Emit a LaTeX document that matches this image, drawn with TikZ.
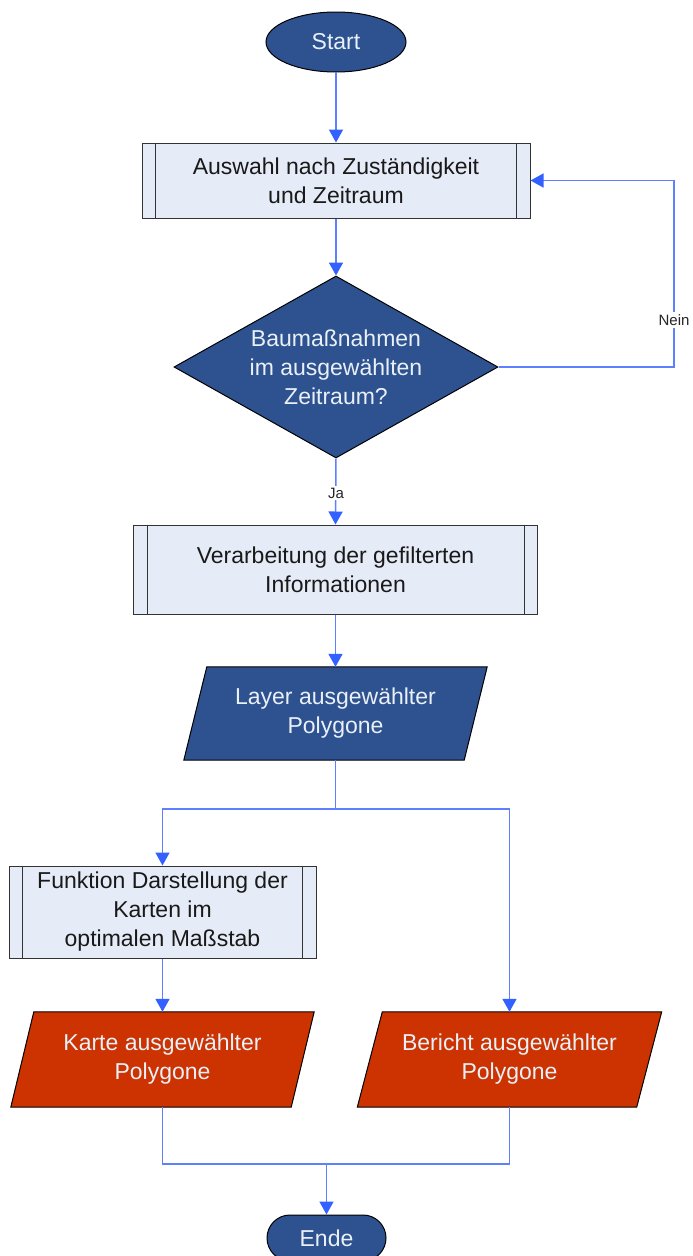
\documentclass[tikz,border=0pt]{standalone}
\usepackage{fontspec}
\setmainfont{Liberation Sans}
\usetikzlibrary{shapes.geometric,arrows.meta,backgrounds}

\definecolor{navy}{RGB}{46,82,144}
\definecolor{rust}{RGB}{204,51,0}
\definecolor{pale}{RGB}{230,236,247}
\definecolor{flowline}{RGB}{92,128,255}
\definecolor{flowtip}{RGB}{51,97,255}
\definecolor{paletext}{RGB}{234,240,248}

% input/output box: slanted outline drawn behind a plain rectangle node
\newcommand\slanted[3]{%
  \begin{scope}[on background layer]
    \draw[draw=black, line width=1pt, fill=#3]
      ([xshift=#2]#1.north west) -- ([xshift=#2]#1.north east)
      -- ([xshift=-#2]#1.south east) -- ([xshift=-#2]#1.south west) -- cycle;
  \end{scope}}

% predefined-process bars on both sides of a box
\newcommand\sidebars[1]{%
  \draw[black!80, line width=1pt] ([xshift=14pt]#1.north west) -- ([xshift=14pt]#1.south west);
  \draw[black!80, line width=1pt] ([xshift=-14pt]#1.north east) -- ([xshift=-14pt]#1.south east);}

\begin{document}
\begin{tikzpicture}[x=1pt,y=-1pt,
  every node/.style={font=\fontsize{23}{29}\selectfont, align=center, inner sep=0pt},
  terminal/.style={ellipse, draw=black, line width=1pt, fill=navy, text=paletext},
  stadium/.style={rectangle, rounded corners=23pt, draw=black, line width=1pt, fill=navy, text=paletext},
  procbox/.style={rectangle, draw=black!80, line width=1pt, fill=pale, text=black!90},
  decision/.style={diamond, draw=black, line width=1pt, fill=navy},
  iobox/.style={rectangle, text=paletext},
  lbl/.style={font=\fontsize{15}{18}\selectfont, fill=white, inner sep=2pt, text=black!85},
  flow/.style={draw=flowline, line width=1.5pt, -{Triangle[width=14pt,length=13pt,color=flowtip]}},
  link/.style={draw=flowline, line width=1.5pt},
]
\begin{scope}[on background layer]
  \fill[white] (0,0) rectangle (693,1256);
\end{scope}
\useasboundingbox (0,0) rectangle (693,1256);

% nodes
\node[terminal, minimum width=140pt, minimum height=60pt] (start) at (336,42) {Start};
\node[procbox, minimum width=388pt, minimum height=75pt] (p1) at (336,180.5)
  {Auswahl nach Zuständigkeit\\und Zeitraum};
\node[decision, minimum width=324pt, minimum height=182pt] (d) at (336,367) {};
\node[text=paletext] (dtext) at (d) {Baumaßnahmen\\im ausgewählten\\Zeitraum?};
\node[procbox, minimum width=404pt, minimum height=89pt] (p2) at (335.5,569.5)
  {Verarbeitung der gefilterten\\Informationen};
\node[iobox, minimum width=280pt, minimum height=93pt] (layer) at (335.5,713.5)
  {Layer ausgewählter\\Polygone};
\node[procbox, minimum width=307pt, minimum height=92pt] (p3) at (162.5,912)
  {Funktion Darstellung der\\Karten im\\optimalen Maßstab};
\node[iobox, minimum width=280pt, minimum height=95pt] (karte) at (162.5,1059.5)
  {Karte ausgewählter\\Polygone};
\node[iobox, minimum width=279pt, minimum height=95pt] (bericht) at (509.5,1059.5)
  {Bericht ausgewählter\\Polygone};
\node[stadium, minimum width=119pt, minimum height=46pt] (ende) at (326.5,1238) {Ende};

\sidebars{p1}
\sidebars{p2}
\sidebars{p3}
\slanted{layer}{11.5pt}{navy}
\slanted{karte}{11.5pt}{rust}
\slanted{bericht}{12.5pt}{rust}

% connectors
\coordinate (loop) at (674,270);
\coordinate (split) at (335.5,809);
\coordinate (merge) at (326.5,1164);

\draw[flow] (start) -- (p1);
\draw[flow] (p1.south) -- (d.north);
\draw[flow] (d.east) -| (loop) |- (p1.east);
\node[lbl] (nein) at (674,320) {Nein};
\draw[flow] (d.south) -- (p2.north);
\node[lbl] (ja) at (336,493) {Ja};
\draw[flow] (p2.south) -- (layer.north);
\draw[link] (layer.south) -- (split);
\draw[flow] (split) -| (p3.north);
\draw[flow] (split) -| (bericht.north);
\draw[flow] (p3.south) -- (karte.north);
\draw[link] (karte.south) |- (merge);
\draw[link] (bericht.south) |- (merge);
\draw[flow] (merge) -- (ende.north);
\end{tikzpicture}
\end{document}
